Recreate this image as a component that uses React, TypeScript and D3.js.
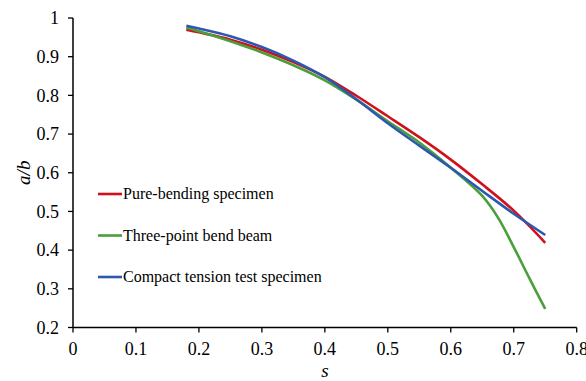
import React from "react";
import * as d3 from "d3";

const xTicks = [0, 0.1, 0.2, 0.3, 0.4, 0.5, 0.6, 0.7, 0.8];
const yTicks = [0.2, 0.3, 0.4, 0.5, 0.6, 0.7, 0.8, 0.9, 1];
const xTickLabels = ["0", "0.1", "0.2", "0.3", "0.4", "0.5", "0.6", "0.7", "0.8"];
const yTickLabels = ["0.2", "0.3", "0.4", "0.5", "0.6", "0.7", "0.8", "0.9", "1"];

const seriesNames = ["Pure-bending specimen", "Three-point bend beam", "Compact tension test specimen"];
const seriesColors = ["#D0101A", "#4A9F3A", "#2D57B0"];

const pureS = [0.18, 0.2, 0.25, 0.3, 0.35, 0.4, 0.45, 0.5, 0.55, 0.6, 0.65, 0.7, 0.75];
const pureA = [0.970, 0.963, 0.944, 0.918, 0.886, 0.848, 0.799, 0.746, 0.692, 0.634, 0.570, 0.502, 0.419];

const threeS = [0.18, 0.2, 0.25, 0.3, 0.35, 0.4, 0.45, 0.5, 0.55, 0.6, 0.65, 0.675, 0.7, 0.725, 0.75];
const threeA = [0.975, 0.966, 0.940, 0.911, 0.878, 0.839, 0.789, 0.733, 0.678, 0.613, 0.540, 0.484, 0.408, 0.327, 0.248];

const ctS = [0.18, 0.2, 0.25, 0.3, 0.35, 0.4, 0.45, 0.5, 0.55, 0.6, 0.65, 0.7, 0.75];
const ctA = [0.980, 0.973, 0.953, 0.925, 0.890, 0.847, 0.790, 0.728, 0.670, 0.613, 0.553, 0.494, 0.439];

const W = 586;
const H = 381;
const left = 73;
const right = 576.7;
const top = 18;
const bottom = 327.5;
const FONT = "'Liberation Serif', 'Times New Roman', serif";

export default function App() {
  const x = d3.scaleLinear().domain([0, 0.8]).range([left, right]);
  const y = d3.scaleLinear().domain([0.2, 1]).range([bottom, top]);
  const line = d3
    .line<[number, number]>()
    .x((d) => x(d[0]))
    .y((d) => y(d[1]))
    .curve(d3.curveCatmullRom.alpha(0.5));

  const series = [
    pureS.map((s, i) => [s, pureA[i]] as [number, number]),
    threeS.map((s, i) => [s, threeA[i]] as [number, number]),
    ctS.map((s, i) => [s, ctA[i]] as [number, number]),
  ];

  const legendY = [194, 235.5, 277];

  return (
    <svg
      width={W}
      height={H}
      style={{ position: "absolute", left: 0, top: 0, background: "#fff" }}
      fontFamily={FONT}
    >
      {series.map((d, i) => (
        <path key={i} d={line(d) || ""} fill="none" stroke={seriesColors[i]} strokeWidth={2.6} />
      ))}
      <line x1={left} x2={left} y1={top} y2={bottom} stroke="#000" strokeWidth={1.5} />
      <line x1={left} x2={right} y1={bottom} y2={bottom} stroke="#000" strokeWidth={1.5} />
      {yTicks.map((t, i) => (
        <g key={"y" + i}>
          <line x1={left - 5} x2={left} y1={y(t)} y2={y(t)} stroke="#000" strokeWidth={1.3} />
          <text x={left - 14} y={y(t)} dy="0.35em" textAnchor="end" fontSize={18} fill="#000">
            {yTickLabels[i]}
          </text>
        </g>
      ))}
      {xTicks.map((t, i) => (
        <g key={"x" + i}>
          <line x1={x(t)} x2={x(t)} y1={bottom} y2={bottom + 5} stroke="#000" strokeWidth={1.3} />
          <text x={x(t)} y={bottom + 27} textAnchor="middle" fontSize={18} fill="#000">
            {xTickLabels[i]}
          </text>
        </g>
      ))}
      <text
        transform={`translate(30,${(top + bottom) / 2}) rotate(-90)`}
        textAnchor="middle"
        fontSize={19}
        fontStyle="italic"
        fill="#000"
      >
        a/b
      </text>
      <text x={(left + right) / 2} y={377} textAnchor="middle" fontSize={19} fontStyle="italic" fill="#000">
        s
      </text>
      {seriesNames.map((n, i) => (
        <g key={"l" + i}>
          <line x1={98} x2={122} y1={legendY[i]} y2={legendY[i]} stroke={seriesColors[i]} strokeWidth={2.6} />
          <text x={123} y={legendY[i]} dy="0.33em" fontSize={16} fill="#000">
            {n}
          </text>
        </g>
      ))}
    </svg>
  );
}
